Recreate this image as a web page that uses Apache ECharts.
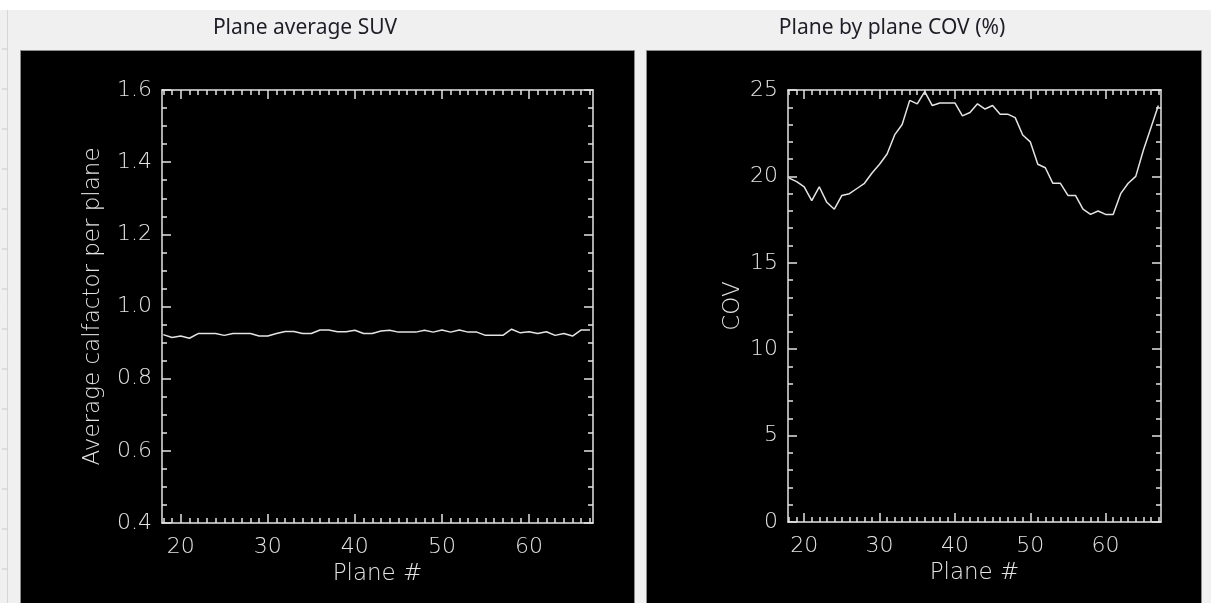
<!DOCTYPE html>
<html>
<head>
<meta charset="utf-8">
<title>Plane average SUV / Plane by plane COV</title>
<script src="https://cdn.jsdelivr.net/npm/echarts@6/dist/echarts.min.js"></script>
<style>
  html, body { margin: 0; padding: 0; background: #f0f0f0; }
  #chart { width: 1211px; height: 603px; }
</style>
</head>
<body>
<div id="chart"></div>
<script>
// Plane numbers along the scanner axis
const planes = [18, 19, 20, 21, 22, 23, 24, 25, 26, 27, 28, 29, 30, 31, 32, 33, 34,
  35, 36, 37, 38, 39, 40, 41, 42, 43, 44, 45, 46, 47, 48, 49, 50, 51, 52, 53, 54,
  55, 56, 57, 58, 59, 60, 61, 62, 63, 64, 65, 66, 67];

// Average calibration factor for each plane
const avgCalfactor = [0.922, 0.914, 0.918, 0.912, 0.925, 0.925, 0.925, 0.920, 0.925, 0.925,
  0.925, 0.918, 0.918, 0.925, 0.931, 0.931, 0.925, 0.925, 0.935, 0.935,
  0.930, 0.930, 0.934, 0.925, 0.925, 0.932, 0.934, 0.929, 0.929, 0.929,
  0.934, 0.929, 0.935, 0.929, 0.935, 0.929, 0.929, 0.920, 0.920, 0.920,
  0.937, 0.927, 0.930, 0.925, 0.930, 0.920, 0.925, 0.918, 0.935, 0.935];

// Coefficient of variation (%) for each plane
const covPercent = [19.9, 19.7, 19.4, 18.6, 19.4, 18.5, 18.1, 18.9, 19.0, 19.3,
  19.6, 20.2, 20.7, 21.3, 22.4, 23.0, 24.4, 24.2, 24.9, 24.1,
  24.25, 24.25, 24.25, 23.5, 23.7, 24.2, 23.9, 24.1, 23.6, 23.6,
  23.4, 22.4, 22.0, 20.7, 20.5, 19.6, 19.6, 18.9, 18.9, 18.1,
  17.8, 18.0, 17.8, 17.8, 19.0, 19.6, 20.0, 21.5, 22.8, 24.1];

// Tick labels
const planeTicks = [20, 30, 40, 50, 60];
const suvTicks = [0.4, 0.6, 0.8, 1.0, 1.2, 1.4, 1.6];
const covTicks = [0, 5, 10, 15, 20, 25];

// Minor tick positions
const planeMinor = [];
for (let p = 18; p <= 67; p++) planeMinor.push(p);
const suvMinor = [];
for (let k = 8; k <= 32; k++) suvMinor.push(k * 0.05);
const covMinor = [];
for (let k = 0; k <= 25; k++) covMinor.push(k);

const INK = '#e4e4e4';
const LABEL_FONT = { color: INK, fontFamily: 'DejaVu Sans', fontWeight: 200, fontSize: 22 };
const NAME_FONT = { color: INK, fontFamily: 'DejaVu Sans', fontWeight: 200, fontSize: 23 };

const X_MIN = 17.85, X_MAX = 67.35;

// One side of a plot frame: either the long (major) ticks with axis line, or the short ones
function xSide(grid, pos, major, withLabels) {
  return {
    type: 'value', gridIndex: grid, position: pos, min: X_MIN, max: X_MAX,
    splitLine: { show: false },
    axisLine: { show: major, onZero: false, lineStyle: { color: INK, width: 1.5 } },
    axisTick: { show: true, inside: true, length: major ? 9 : 5,
      customValues: major ? planeTicks : planeMinor,
      lineStyle: { color: INK, width: 1.5 } },
    axisLabel: withLabels
      ? Object.assign({ show: true, margin: 13, customValues: planeTicks }, LABEL_FONT)
      : { show: false },
    name: withLabels ? 'Plane #' : '',
    nameLocation: 'middle', nameGap: 40,
    nameTextStyle: NAME_FONT
  };
}

function ySide(grid, pos, major, withLabels, range, majorTicks, minorTicks, fmt, name, gap) {
  return {
    type: 'value', gridIndex: grid, position: pos, min: range[0], max: range[1],
    splitLine: { show: false },
    axisLine: { show: major, onZero: false, lineStyle: { color: INK, width: 1.5 } },
    axisTick: { show: true, inside: true, length: major ? 9 : 5,
      customValues: major ? majorTicks : minorTicks,
      lineStyle: { color: INK, width: 1.5 } },
    axisLabel: withLabels
      ? Object.assign({ show: true, margin: 10, customValues: majorTicks, formatter: fmt }, LABEL_FONT)
      : { show: false },
    name: withLabels ? name : '',
    nameLocation: 'middle', nameGap: gap,
    nameTextStyle: NAME_FONT
  };
}

const fmtSuv = v => Number(v).toFixed(1);
const fmtCov = v => String(Math.round(v));

// Window decoration: ruler strip on the left edge
const rulerTicks = [];
for (let y = 49; y < 603; y += 40) {
  rulerTicks.push({ type: 'line', z: -90, shape: { x1: 2, y1: y, x2: 7, y2: y },
    style: { stroke: '#c9c9c9', lineWidth: 1 } });
}

const TITLE_FONT = { color: '#1e1e28', fontFamily: 'Noto Sans', fontWeight: 'normal', fontSize: 21 };

const chart = echarts.init(document.getElementById('chart'), null, { renderer: 'canvas' });

chart.setOption({
  animation: false,
  backgroundColor: '#f0f0f0',
  title: [
    { text: 'Plane average SUV', left: 300, top: 13, textAlign: 'center', textStyle: TITLE_FONT },
    { text: 'Plane by plane COV (%)', left: 887, top: 13, textAlign: 'center', textStyle: TITLE_FONT }
  ],
  graphic: [
    { type: 'rect', z: -100, shape: { x: 0, y: 0, width: 1211, height: 10 }, style: { fill: '#ffffff' } },
    { type: 'line', z: -90, shape: { x1: 7.5, y1: 10, x2: 7.5, y2: 603 }, style: { stroke: '#d6d6d6', lineWidth: 1 } },
    ...rulerTicks,
    { type: 'rect', z: -80, shape: { x: 20.5, y: 50.5, width: 614, height: 560 },
      style: { fill: '#000000', stroke: '#8c8c8c', lineWidth: 1 } },
    { type: 'rect', z: -80, shape: { x: 646.5, y: 50.5, width: 555, height: 560 },
      style: { fill: '#000000', stroke: '#8c8c8c', lineWidth: 1 } }
  ],
  grid: [
    { left: 162, top: 90, width: 431, height: 433 },
    { left: 788, top: 90, width: 373, height: 432 }
  ],
  xAxis: [
    xSide(0, 'bottom', true, true),
    xSide(0, 'bottom', false, false),
    xSide(0, 'top', true, false),
    xSide(0, 'top', false, false),
    xSide(1, 'bottom', true, true),
    xSide(1, 'bottom', false, false),
    xSide(1, 'top', true, false),
    xSide(1, 'top', false, false)
  ],
  yAxis: [
    ySide(0, 'left', true, true, [0.4, 1.6], suvTicks, suvMinor, fmtSuv, 'Average calfactor per plane', 57),
    ySide(0, 'left', false, false, [0.4, 1.6], suvTicks, suvMinor, fmtSuv, '', 0),
    ySide(0, 'right', true, false, [0.4, 1.6], suvTicks, suvMinor, fmtSuv, '', 0),
    ySide(0, 'right', false, false, [0.4, 1.6], suvTicks, suvMinor, fmtSuv, '', 0),
    ySide(1, 'left', true, true, [0, 25], covTicks, covMinor, fmtCov, 'COV', 43),
    ySide(1, 'left', false, false, [0, 25], covTicks, covMinor, fmtCov, '', 0),
    ySide(1, 'right', true, false, [0, 25], covTicks, covMinor, fmtCov, '', 0),
    ySide(1, 'right', false, false, [0, 25], covTicks, covMinor, fmtCov, '', 0)
  ],
  series: [
    { type: 'line', xAxisIndex: 0, yAxisIndex: 0, showSymbol: false, silent: true,
      data: planes.map((p, i) => [p, avgCalfactor[i]]),
      lineStyle: { color: INK, width: 1.5 } },
    { type: 'line', xAxisIndex: 4, yAxisIndex: 4, showSymbol: false, silent: true,
      data: planes.map((p, i) => [p, covPercent[i]]),
      lineStyle: { color: INK, width: 1.5 } }
  ]
});
</script>
</body>
</html>
